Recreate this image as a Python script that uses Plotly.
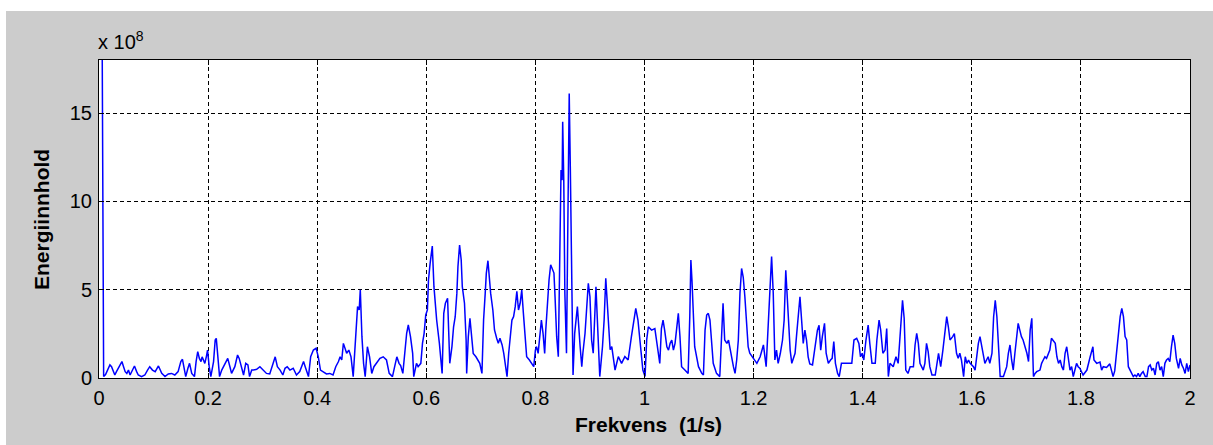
import plotly.graph_objects as go

# ---- data (frequency in 1/s, energy in units of 1e8) ----
freq_a = [
 0.000, 0.0085, 0.012, 0.016, 0.020, 0.023, 0.026, 0.029, 0.032, 0.037,
 0.042, 0.045, 0.048, 0.051, 0.054, 0.057, 0.060, 0.065, 0.069, 0.072,
 0.078, 0.084, 0.089, 0.093, 0.098, 0.103, 0.109, 0.115, 0.121, 0.127,
 0.133, 0.139, 0.145, 0.150, 0.153, 0.156, 0.159, 0.163, 0.166, 0.170,
 0.175, 0.178, 0.181, 0.184, 0.187, 0.189, 0.194, 0.197, 0.199, 0.202,
 0.205, 0.210, 0.213, 0.215, 0.218, 0.221, 0.225, 0.231, 0.236, 0.240,
 0.243, 0.249, 0.254, 0.257, 0.262, 0.265, 0.269, 0.273, 0.276, 0.280]
energy_a = [
 60.0, 0.08, 0.20, 0.45, 0.74, 0.64, 0.36, 0.17, 0.36, 0.64,
 0.93, 0.64, 0.36, 0.26, 0.45, 0.17, 0.36, 0.68, 0.36, 0.17,
 0.08, 0.17, 0.45, 0.64, 0.45, 0.36, 0.68, 0.26, 0.08, 0.23,
 0.26, 0.17, 0.36, 0.93, 1.06, 0.64, 0.08, 0.55, 0.83, 0.26,
 0.08, 0.93, 1.49, 1.11, 0.93, 1.20, 0.83, 1.24, 1.58, 0.64,
 0.08, 0.93, 2.15, 2.24, 1.20, 0.08, 0.45, 0.83, 1.11, 0.64,
 0.26, 0.64, 1.30, 1.11, 0.55, 0.17, 0.83, 0.74, 0.08, 0.45]

freq_b = [
 0.283, 0.289, 0.295, 0.301, 0.307, 0.313, 0.319, 0.323, 0.327, 0.332,
 0.337, 0.341, 0.345, 0.350, 0.356, 0.362, 0.368, 0.375, 0.378, 0.384,
 0.388, 0.393, 0.398, 0.402, 0.406, 0.411, 0.417, 0.423, 0.429, 0.434,
 0.439, 0.442, 0.445, 0.448, 0.451, 0.454, 0.458, 0.462, 0.466, 0.470,
 0.474, 0.477, 0.479, 0.482, 0.485, 0.488, 0.492, 0.496, 0.500, 0.504,
 0.509, 0.515, 0.521, 0.527, 0.532, 0.538, 0.542, 0.546, 0.550]
energy_b = [
 0.45, 0.49, 0.64, 0.45, 0.26, 0.23, 0.83, 1.20, 0.64, 0.45,
 0.17, 0.55, 0.64, 0.45, 0.55, 0.17, 0.36, 0.93, 0.64, 0.08,
 1.20, 1.58, 1.68, 1.20, 0.45, 0.36, 0.23, 0.26, 0.17, 0.64,
 0.93, 1.20, 1.02, 1.96, 1.68, 1.40, 1.58, 1.20, 0.08, 2.15,
 4.04, 3.85, 4.99, 2.34, 0.83, 0.08, 1.77, 1.20, 0.26, 0.64,
 0.83, 1.11, 1.20, 1.02, 0.26, 0.08, 0.64, 1.20, 0.83]

freq_c = [
 0.553, 0.557, 0.561, 0.564, 0.567, 0.571, 0.575, 0.577, 0.582, 0.585,
 0.590, 0.593, 0.596, 0.599, 0.602, 0.604, 0.607, 0.608, 0.611, 0.614,
 0.619, 0.624, 0.629, 0.632, 0.635, 0.639, 0.641, 0.643, 0.647, 0.650,
 0.653, 0.656, 0.658, 0.661, 0.664, 0.666, 0.670, 0.673, 0.674, 0.677,
 0.680, 0.683, 0.686, 0.691, 0.695, 0.698, 0.702, 0.705, 0.708, 0.710,
 0.713, 0.715, 0.718, 0.722, 0.725, 0.729, 0.732, 0.735, 0.739, 0.742,
 0.745, 0.748, 0.751, 0.754, 0.757, 0.760, 0.763, 0.766, 0.769, 0.772,
 0.775, 0.778, 0.781, 0.784, 0.789, 0.793, 0.797, 0.800, 0.802, 0.805,
 0.808, 0.811, 0.814, 0.817, 0.819, 0.822]
energy_c = [
 0.70, 0.26, 1.78, 2.53, 3.00, 2.34, 1.39, 0.08, 0.83, 0.64,
 0.83, 1.96, 2.53, 3.57, 3.85, 5.55, 6.49, 6.72, 7.47, 5.17,
 3.28, 1.96, 0.26, 3.66, 4.23, 4.51, 2.72, 0.83, 1.78, 2.90,
 3.47, 4.79, 6.30, 7.53, 6.68, 5.17, 4.23, 2.15, 0.26, 2.34,
 3.38, 2.15, 1.39, 1.20, 1.02, 0.83, 0.26, 3.28, 4.79, 5.92,
 6.64, 5.92, 4.79, 3.85, 2.72, 2.25, 1.96, 2.25, 1.87, 1.39,
 0.83, 0.08, 1.39, 2.34, 3.28, 3.47, 4.04, 4.90, 3.85, 4.23,
 4.98, 3.66, 2.53, 1.20, 1.02, 0.83, 0.64, 1.58, 1.78, 1.39,
 2.53, 3.28, 2.53, 1.39, 2.72, 4.23]

freq_m = [
 0.825, 0.828, 0.831, 0.834, 0.836, 0.839, 0.842, 0.844, 0.847, 0.849,
 0.850, 0.852, 0.854, 0.857, 0.860, 0.862, 0.864, 0.867, 0.869, 0.872,
 0.877, 0.882, 0.885, 0.887, 0.891, 0.897, 0.900, 0.903, 0.906, 0.911,
 0.915, 0.918, 0.923, 0.926, 0.929, 0.933, 0.937, 0.940, 0.946, 0.952,
 0.958, 0.964, 0.970, 0.976, 0.981, 0.984, 0.988, 0.993, 0.997, 1.001,
 1.004, 1.007, 1.013, 1.019, 1.025, 1.028, 1.031, 1.034, 1.037, 1.041,
 1.044]
energy_m = [
 5.55, 6.41, 6.13, 5.94, 4.60, 2.34, 1.21, 5.90, 11.77, 11.20,
 14.50, 11.20, 4.80, 1.40, 12.34, 16.10, 11.96, 4.04, 0.17, 2.53,
 4.04, 1.78, 0.64, 1.40, 2.53, 5.36, 4.60, 2.15, 1.40, 5.17,
 1.78, 0.08, 1.78, 3.28, 5.64, 3.28, 1.60, 1.78, 0.45, 1.21,
 0.83, 1.21, 1.02, 2.34, 3.28, 3.94, 3.28, 1.60, 0.45, 0.08,
 2.15, 2.90, 2.71, 2.80, 1.60, 0.83, 2.80, 3.28, 2.70, 1.77,
 1.58]

freq_d = [
 1.047, 1.050, 1.053, 1.056, 1.059, 1.062, 1.065, 1.068, 1.074, 1.080,
 1.083, 1.085, 1.087, 1.089, 1.092, 1.099, 1.105, 1.108, 1.111, 1.114,
 1.117, 1.120, 1.123, 1.126, 1.132, 1.138, 1.141, 1.144, 1.147, 1.151,
 1.154, 1.157, 1.163, 1.166, 1.169, 1.172, 1.175, 1.178, 1.181, 1.184,
 1.187, 1.190, 1.193, 1.199, 1.206, 1.212, 1.215, 1.218, 1.223, 1.225,
 1.228, 1.230, 1.233, 1.236, 1.239, 1.242, 1.245, 1.249, 1.253, 1.256,
 1.259, 1.262, 1.267, 1.270, 1.276, 1.279, 1.282, 1.285, 1.288, 1.291,
 1.294, 1.297, 1.300, 1.303, 1.308, 1.313, 1.317, 1.320]
energy_d = [
 1.96, 2.15, 1.58, 1.96, 2.90, 3.66, 2.34, 0.64, 0.45, 0.26,
 3.47, 6.68, 5.55, 3.47, 1.77, 0.64, 0.26, 0.17, 2.71, 3.56,
 3.66, 3.28, 2.15, 0.83, 0.26, 0.08, 2.15, 4.23, 2.15, 1.96,
 2.15, 1.58, 0.64, 0.26, 1.02, 2.15, 4.80, 6.20, 5.70, 4.60,
 3.09, 1.77, 1.40, 1.11, 0.83, 1.20, 1.58, 1.87, 0.64, 1.77,
 3.47, 4.99, 6.87, 4.80, 1.02, 1.58, 0.83, 1.40, 2.15, 3.28,
 6.10, 4.40, 1.58, 0.83, 1.40, 2.50, 3.66, 4.60, 3.28, 1.96,
 2.71, 2.15, 1.20, 0.80, 0.74, 1.87, 2.71, 2.99]

freq_e = [
 1.323, 1.326, 1.330, 1.333, 1.337, 1.341, 1.344, 1.347, 1.350, 1.354,
 1.357, 1.361, 1.368, 1.374, 1.380, 1.384, 1.389, 1.393, 1.396, 1.399,
 1.402, 1.406, 1.410, 1.413, 1.417, 1.423, 1.426, 1.430, 1.433, 1.437,
 1.441, 1.444, 1.447, 1.450, 1.456, 1.461, 1.465, 1.468, 1.471, 1.473,
 1.476, 1.479, 1.483, 1.487, 1.493, 1.496, 1.499, 1.502, 1.505, 1.511,
 1.514, 1.517, 1.520, 1.523, 1.527, 1.533, 1.539, 1.543, 1.547, 1.551,
 1.554, 1.557, 1.560, 1.565, 1.568, 1.572, 1.575]
energy_e = [
 1.58, 2.34, 3.09, 1.40, 0.83, 1.02, 1.11, 2.06, 0.83, 0.26,
 0.08, 0.83, 0.83, 0.83, 0.83, 2.15, 2.25, 1.96, 1.20, 1.40,
 1.02, 2.15, 2.99, 1.96, 0.83, 0.83, 2.15, 3.28, 2.71, 1.40,
 1.58, 2.80, 0.08, 0.83, 0.64, 1.20, 0.83, 2.15, 3.38, 4.40,
 3.38, 0.45, 0.26, 0.64, 0.64, 1.87, 2.52, 1.96, 0.83, 0.45,
 0.83, 1.96, 1.49, 0.64, 0.17, 0.17, 1.40, 0.64, 1.58, 2.71,
 3.47, 2.90, 2.15, 2.34, 2.52, 1.40, 1.11]

freq_f = [
 1.578, 1.581, 1.585, 1.588, 1.591, 1.594, 1.597, 1.600, 1.603, 1.606,
 1.609, 1.612, 1.615, 1.618, 1.621, 1.624, 1.627, 1.630, 1.633, 1.637,
 1.640, 1.643, 1.646, 1.649, 1.652, 1.658, 1.664, 1.667, 1.670, 1.673,
 1.676, 1.679, 1.682, 1.685, 1.688, 1.691, 1.694, 1.698, 1.701, 1.704,
 1.707, 1.710, 1.713, 1.716, 1.719, 1.725, 1.728, 1.731, 1.734, 1.737,
 1.740, 1.743, 1.746, 1.749, 1.753, 1.756, 1.759, 1.762, 1.765, 1.768,
 1.771, 1.774, 1.777, 1.780, 1.783, 1.786, 1.789, 1.792, 1.795, 1.798,
 1.804, 1.811, 1.817, 1.822, 1.824, 1.829, 1.835, 1.838, 1.841, 1.847,
 1.853, 1.856]
energy_f = [
 1.40, 1.02, 0.08, 1.20, 0.83, 1.02, 0.83, 0.74, 0.64, 0.45,
 1.20, 1.96, 2.34, 1.87, 1.40, 0.83, 1.02, 1.20, 0.83, 1.40,
 3.47, 4.40, 3.47, 1.77, 0.08, 0.08, 0.64, 1.40, 1.87, 1.02,
 0.45, 1.40, 2.34, 3.09, 2.71, 2.34, 2.15, 1.77, 1.40, 0.93,
 2.71, 3.38, 0.08, 0.26, 0.36, 0.45, 0.83, 1.02, 1.20, 1.11,
 1.30, 1.58, 2.25, 2.15, 1.96, 1.20, 0.83, 1.02, 0.64, 0.45,
 1.40, 1.77, 1.20, 0.45, 0.64, 0.08, 0.45, 0.83, 0.64, 0.55,
 0.17, 0.45, 1.20, 1.77, 1.02, 0.83, 0.90, 0.45, 0.64, 0.60,
 0.80, 0.45]

freq_g = [
 1.859, 1.862, 1.866, 1.869, 1.872, 1.875, 1.878, 1.881, 1.884, 1.887,
 1.890, 1.893, 1.896, 1.899, 1.902, 1.905, 1.908, 1.911, 1.914, 1.918,
 1.921, 1.924, 1.927, 1.930, 1.933, 1.936, 1.939, 1.942, 1.945, 1.948,
 1.951, 1.954, 1.957, 1.960, 1.963, 1.966, 1.969, 1.972, 1.975, 1.979,
 1.982, 1.985, 1.988, 1.991, 1.994, 1.997, 2.000]
energy_g = [
 0.08, 0.40, 1.58, 2.53, 3.47, 3.94, 3.47, 2.34, 2.15, 0.64,
 0.45, 0.26, 0.08, 0.17, 0.08, 0.26, 0.08, 0.26, 0.36, 0.08,
 0.08, 0.64, 0.74, 0.45, 0.55, 0.17, 0.83, 0.92, 0.45, 0.64,
 0.08, 0.83, 1.02, 1.11, 0.92, 1.77, 2.43, 1.96, 1.11, 0.55,
 1.11, 0.74, 0.55, 0.26, 0.83, 0.36, 0.74]

x_tick_vals = [0, 0.2, 0.4, 0.6, 0.8, 1.0, 1.2, 1.4, 1.6, 1.8, 2.0]
x_tick_text = ["0", "0.2", "0.4", "0.6", "0.8", "1", "1.2", "1.4", "1.6", "1.8", "2"]
y_tick_vals = [0, 5, 10, 15]
y_tick_text = ["0", "5", "10", "15"]

freq = freq_a + freq_b + freq_c + freq_m + freq_d + freq_e + freq_f + freq_g
energy = energy_a + energy_b + energy_c + energy_m + energy_d + energy_e + energy_f + energy_g
assert len(freq) == len(energy)

W, H = 1213, 445
ML, MR, MT, MB = 99, 23, 60, 67
PW, PH = W - ML - MR, H - MT - MB

def px(xpix):
    return (xpix - ML) / PW

def py(ypix):
    return (H - MB - ypix) / PH

FONT = "Liberation Sans, Arial, Helvetica, sans-serif"

fig = go.Figure()
fig.add_trace(go.Scatter(
    x=freq, y=energy, mode="lines",
    line=dict(color="#0000FF", width=1.5),
    showlegend=False, hoverinfo="skip",
))

axis_common = dict(
    ticks="inside", ticklen=5, tickwidth=1, tickcolor="black",
    showline=True, linecolor="black", linewidth=1, mirror="ticks",
    showgrid=True, gridcolor="black", gridwidth=1, griddash="4px,3px",
    zeroline=False, tickfont=dict(family=FONT, size=20, color="black"),
    ticklabelstandoff=2,
)
fig.update_xaxes(range=[0, 2], tickvals=x_tick_vals, ticktext=x_tick_text, **axis_common)
fig.update_yaxes(range=[0, 18], tickvals=y_tick_vals, ticktext=y_tick_text, **axis_common)

fig.update_layout(
    width=W, height=H,
    margin=dict(l=ML, r=MR, t=MT, b=MB, pad=0),
    paper_bgcolor="white", plot_bgcolor="white",
    font=dict(family=FONT, color="black"),
    shapes=[
        dict(type="rect", xref="paper", yref="paper", layer="below",
             x0=px(6), x1=px(W + 5), y0=py(H + 5), y1=py(11),
             fillcolor="#CCCCCC", line=dict(width=0)),
        dict(type="rect", xref="paper", yref="paper", layer="below",
             x0=0, x1=1, y0=0, y1=1, fillcolor="white", line=dict(width=0)),
    ],
    annotations=[
        dict(text="<b>Frekvens\u00a0 (1/s)</b>", xref="paper", yref="paper",
             x=px(648), y=py(424), xanchor="center", yanchor="middle",
             showarrow=False, font=dict(family=FONT, size=21, color="black")),
        dict(text="<b>Energiinnhold</b>", xref="paper", yref="paper",
             x=px(41), y=py(220), xanchor="center", yanchor="middle", textangle=-90,
             showarrow=False, font=dict(family=FONT, size=21, color="black")),
        dict(text="x 10<sup>8</sup>", xref="paper", yref="paper",
             x=px(96), y=py(40), xanchor="left", yanchor="middle",
             showarrow=False, font=dict(family=FONT, size=20, color="black")),
    ],
)

fig.write_html(
    "out.html",
    config={"displayModeBar": False, "staticPlot": True},
    post_script="document.body.style.margin='0';document.body.style.padding='0';",
)
